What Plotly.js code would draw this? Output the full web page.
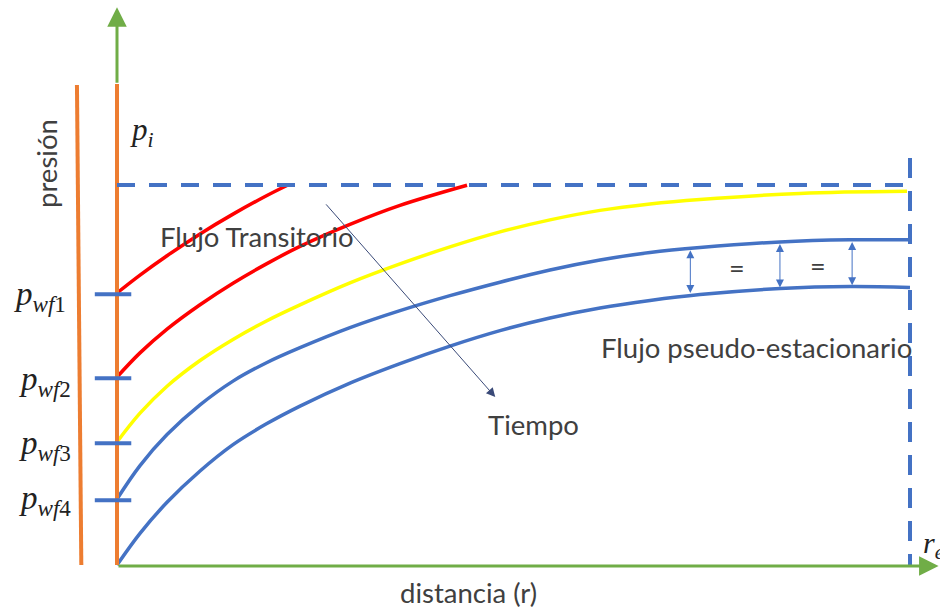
<!DOCTYPE html>
<html>
<head>
<meta charset="utf-8">
<script src="https://cdn.plot.ly/plotly-3.0.1.min.js"></script>
<style>
html,body{margin:0;padding:0;background:#ffffff;}
#chart{width:940px;height:610px;}
</style>
</head>
<body>
<div id="chart"></div>
<script>
// ---------------- DATA (distance r: 0..100 = r_e, pressure p: 0..100 = p_i) ----------------
const P_I = 100;
const R_E = 100;

// Transient flow profiles (red)
const red1R = [0, 2.90, 6.31, 10.47, 14.63, 18.79, 21.56];
const red1P = [71.58, 76.29, 81.39, 87.13, 92.34, 97.11, 100];

const red2R = [0, 2.90, 6.31, 10.47, 14.63, 18.79, 23.08, 29.38, 35.69, 44.14];
const red2P = [49.47, 55.82, 62.08, 68.50, 74.16, 79.18, 83.84, 89.63, 94.63, 99.92];

// Transition profile (yellow)
const yellowR = [0, 2.90, 6.31, 10.47, 14.63, 18.79, 23.08, 29.38, 35.69, 41.99, 48.30, 54.60, 60.91, 67.21, 73.52, 86.13, 99.62];
const yellowP = [32.37, 39.95, 47.05, 53.82, 59.37, 64.16, 68.45, 74.24, 79.24, 83.71, 87.66, 90.82, 93.32, 95.03, 96.21, 97.79, 98.34];

// Pseudo-steady-state profiles (blue)
const blue1R = [0, 2.90, 6.31, 10.47, 14.63, 18.79, 23.08, 29.38, 35.69, 41.99, 48.30, 54.60, 60.91, 67.21, 73.52, 83.61, 92.43, 100];
const blue1P = [17.37, 26.16, 34.32, 42.13, 48.39, 53.16, 57.18, 62.45, 66.92, 70.87, 74.42, 77.63, 80.26, 82.24, 83.55, 85.03, 85.58, 85.58];

const blue2R = [0, 2.90, 6.31, 10.47, 14.63, 18.79, 23.08, 29.38, 35.69, 41.99, 48.30, 54.60, 60.91, 67.21, 73.52, 83.61, 92.43, 100];
const blue2P = [0, 8.34, 16.50, 24.74, 31.68, 37.08, 41.82, 47.87, 53.00, 57.61, 61.68, 65.00, 67.63, 69.61, 71.18, 72.76, 73.29, 73.03];

// Bottom-hole pressure labels
const wellLabels = [
  '<i>p</i><sub><i>wf</i>1</sub>',
  '<i>p</i><sub><i>wf</i>2</sub>',
  '<i>p</i><sub><i>wf</i>3</sub>',
  '<i>p</i><sub><i>wf</i>4</sub>'
];

// Equal-drop arrows between the two pseudo-steady profiles
const eqArrowR = [72.3, 83.6, 92.7];
const eqArrowTop = [83.2, 84.9, 85.4];
const eqArrowBottom = [71.6, 73.0, 73.6];
const eqLabelR = [78.2, 88.4];
const eqLabelP = [78.3, 78.9];

// "Tiempo" arrow (tail -> head)
const timeArrowR = [26.2, 47.7];
const timeArrowP = [95.3, 44.2];

// ---------------- STYLE ----------------
const BLUE = '#4472C4', RED = '#FF0000', YELLOW = '#FFFF00', ORANGE = '#ED7D31', GREEN = '#70AD47';
const TXT = '#404040';
const SANS = 'Lato, "Noto Sans", sans-serif';
const SERIF = '"Liberation Serif", "DejaVu Serif", serif';
const TS = 27.5;

function curve(r, p, color) {
  return {x: r, y: p, type: 'scatter', mode: 'lines',
          line: {color: color, width: 3.5, shape: 'spline', smoothing: 1},
          hoverinfo: 'skip', showlegend: false};
}

const traces = [
  curve(red1R, red1P, RED),
  curve(red2R, red2P, RED),
  curve(yellowR, yellowP, YELLOW),
  curve(blue1R, blue1P, BLUE),
  curve(blue2R, blue2P, BLUE)
];

const wellP = [red1P[0], red2P[0], yellowP[0], blue1P[0]];

const shapes = [
  // orange bars
  {type: 'line', xref: 'x', yref: 'y', x0: -5.05, y0: 126.3, x1: -4.5, y1: 0, line: {color: ORANGE, width: 4}},
  {type: 'line', xref: 'x', yref: 'y', x0: 0, y0: 126.6, x1: 0, y1: 0, line: {color: ORANGE, width: 4}},
  // p_i dashed line
  {type: 'line', xref: 'x', yref: 'y', x0: 0, y0: P_I, x1: R_E - 0.4, y1: P_I, line: {color: BLUE, width: 4, dash: '18px,14px'}},
  // r_e dashed line
  {type: 'line', xref: 'x', yref: 'y', x0: R_E, y0: 107.1, x1: R_E, y1: -0.3, line: {color: BLUE, width: 4, dash: '20px,13px'}}
];
wellP.forEach(function (p) {
  shapes.push({type: 'line', xref: 'x', yref: 'y', x0: -2.8, y0: p - 0.3, x1: 1.8, y1: p - 0.3, line: {color: BLUE, width: 4}});
});

function P(px, py) { return {x: px / 940, y: 1 - py / 610}; }
function label(text, px, py, size, opts) {
  const pos = P(px, py);
  return Object.assign({xref: 'paper', yref: 'paper', x: pos.x, y: pos.y, text: text, showarrow: false,
    xanchor: 'center', yanchor: 'middle', font: {family: SANS, size: size, color: TXT}}, opts || {});
}

const annotations = [
  // axes arrows
  {xref: 'x', yref: 'y', axref: 'x', ayref: 'y', x: 103.6, y: -0.25, ax: 0, ay: -0.25, text: '', showarrow: true,
   arrowcolor: GREEN, arrowwidth: 3, arrowhead: 2, arrowsize: 1.3},
  {xref: 'x', yref: 'y', axref: 'x', ayref: 'y', x: 0, y: 146.8, ax: 0, ay: 126.5, text: '', showarrow: true,
   arrowcolor: GREEN, arrowwidth: 3, arrowhead: 2, arrowsize: 1.3},
  // time arrow
  {xref: 'x', yref: 'y', axref: 'x', ayref: 'y', x: timeArrowR[1], y: timeArrowP[1], ax: timeArrowR[0], ay: timeArrowP[0],
   text: '', showarrow: true, arrowcolor: '#3A4A78', arrowwidth: 1, arrowhead: 2, arrowsize: 1.8},
  // texts
  label('presión', 46, 164, TS, {textangle: -90}),
  label('distancia (r)', 468, 592, TS),
  label('Flujo Transitorio', 257, 236, TS),
  label('Flujo pseudo-estacionario', 756, 347, TS),
  label('Tiempo', 533, 424, TS),
  label('<i>p<sub>i</sub></i>', 142, 132, 31, {font: {family: SERIF, size: 31, color: '#222222'}}),
  label('<i>r<sub>e</sub></i>', 933, 545, 30, {font: {family: SERIF, size: 30, color: '#222222'}})
];
const wellLabelY = [297, 381, 445, 500];
const wellLabelX = [40, 45, 45, 45];
wellLabels.forEach(function (t, i) {
  annotations.push(label(t, wellLabelX[i], wellLabelY[i], 33, {font: {family: SERIF, size: 33, color: '#222222'}}));
});
eqArrowR.forEach(function (r, i) {
  annotations.push({xref: 'x', yref: 'y', axref: 'x', ayref: 'y', x: r, y: eqArrowBottom[i], ax: r, ay: eqArrowTop[i],
    text: '', showarrow: true, arrowside: 'end+start', arrowcolor: BLUE, arrowwidth: 1, arrowhead: 2, arrowsize: 1.6});
});
eqLabelR.forEach(function (r, i) {
  annotations.push({xref: 'x', yref: 'y', x: r, y: eqLabelP[i], text: '=', showarrow: false,
    font: {family: SANS, size: 27, color: TXT}});
});

const layout = {
  width: 940, height: 610,
  margin: {l: 0, r: 0, t: 0, b: 0},
  paper_bgcolor: '#ffffff', plot_bgcolor: '#ffffff',
  showlegend: false,
  xaxis: {range: [-14.754, 103.783], visible: false, fixedrange: true},
  yaxis: {range: [-11.842, 148.684], visible: false, fixedrange: true},
  shapes: shapes,
  annotations: annotations
};

Plotly.newPlot('chart', traces, layout, {staticPlot: true, displayModeBar: false});
</script>
</body>
</html>
